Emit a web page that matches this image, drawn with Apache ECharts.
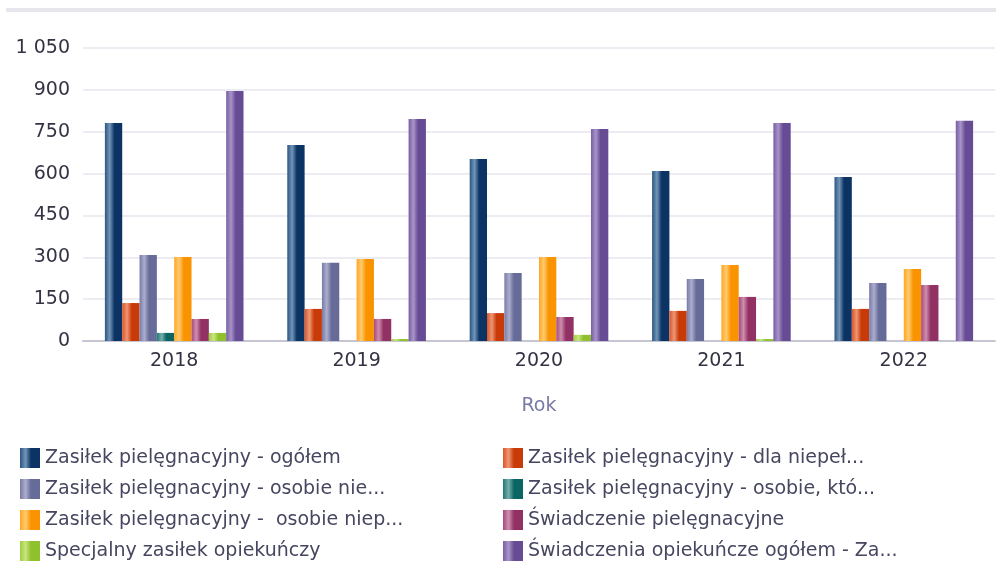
<!DOCTYPE html>
<html>
<head>
<meta charset="utf-8">
<script src="https://cdn.jsdelivr.net/npm/echarts@6/dist/echarts.min.js"></script>
<style>
  html, body { margin: 0; padding: 0; background: #fff; }
  #chart { width: 996px; height: 564px; }
</style>
</head>
<body>
<div id="chart"></div>
<script>
// data
var years = ['2018', '2019', '2020', '2021', '2022'];
var seriesNames = [
  'Zasiłek pielęgnacyjny - ogółem',
  'Zasiłek pielęgnacyjny - dla niepeł...',
  'Zasiłek pielęgnacyjny - osobie nie...',
  'Zasiłek pielęgnacyjny - osobie, któ...',
  'Zasiłek pielęgnacyjny -  osobie niep...',
  'Świadczenie pielęgnacyjne',
  'Specjalny zasiłek opiekuńczy',
  'Świadczenia opiekuńcze ogółem - Za...'
];
var zpOgolem = [781, 702, 652, 609, 588];
var zpDlaNiepel = [136, 115, 100, 108, 115];
var zpOsobieNie = [308, 280, 244, 222, 208];
var zpOsobieKto = [29, 0, 0, 0, 0];
var zpOsobieNiep = [301, 294, 301, 272, 258];
var swiadczeniePiel = [79, 79, 86, 158, 201];
var specjalnyZasilek = [29, 7, 22, 7, 0];
var swiadczeniaOgolem = [896, 796, 760, 781, 789];
var yTicks = { min: 0, max: 1050, interval: 150 };

var values = [zpOgolem, zpDlaNiepel, zpOsobieNie, zpOsobieKto, zpOsobieNiep,
  swiadczeniePiel, specjalnyZasilek, swiadczeniaOgolem];

// base / highlight / dark for the glossy cylinder look
var palette = [
  ['#2a5682', '#7395b8', '#0b3464'],
  ['#dc5626', '#ee9674', '#c83a08'],
  ['#777ba5', '#acaecd', '#676b98'],
  ['#1d7a77', '#78aeab', '#0b6663'],
  ['#ffa620', '#ffca70', '#f99400'],
  ['#a54a7d', '#ce8eae', '#923264'],
  ['#a0ce42', '#c6e57e', '#8fc12d'],
  ['#785da3', '#a894c8', '#674b95']
];

function barColor(p) {
  return new echarts.graphic.LinearGradient(0, 0, 1, 0, [
    { offset: 0, color: p[0] },
    { offset: 0.28, color: p[1] },
    { offset: 0.55, color: p[2] },
    { offset: 1, color: p[2] }
  ]);
}

var chart = echarts.init(document.getElementById('chart'));

var series = seriesNames.map(function (name, i) {
  return {
    name: name,
    type: 'bar',
    data: values[i],
    barGap: '0%',
    barCategoryGap: '24%',
    itemStyle: { color: barColor(palette[i]) }
  };
});

var legendText = { fontFamily: 'DejaVu Sans', fontSize: 19, color: '#464660' };

var option = {
  animation: false,
  textStyle: { fontFamily: 'DejaVu Sans' },
  graphic: [{
    type: 'rect',
    shape: { x: 6, y: 8, width: 990, height: 4 },
    style: { fill: '#e6e6ec' },
    silent: true
  }],
  grid: { left: 83, right: 1, top: 48, bottom: 223 },
  legend: [{
    orient: 'vertical',
    left: 20, top: 448, height: 116,
    padding: 0,
    itemWidth: 20, itemHeight: 20, itemGap: 11,
    icon: 'rect',
    textStyle: legendText,
    data: [seriesNames[0], seriesNames[2], seriesNames[4], seriesNames[6]]
  }, {
    orient: 'vertical',
    left: 503, top: 448, height: 116,
    padding: 0,
    itemWidth: 20, itemHeight: 20, itemGap: 11,
    icon: 'rect',
    textStyle: legendText,
    data: [seriesNames[1], seriesNames[3], seriesNames[5], seriesNames[7]]
  }],
  xAxis: {
    type: 'category',
    data: years,
    name: 'Rok',
    nameLocation: 'middle',
    nameGap: 56,
    nameTextStyle: { color: '#7a7aa6', fontSize: 19 },
    axisLine: { lineStyle: { color: '#c6c6d2', width: 2 } },
    axisTick: { show: false },
    axisLabel: { color: '#333344', fontSize: 19, margin: 11 }
  },
  yAxis: {
    type: 'value',
    min: yTicks.min,
    max: yTicks.max,
    interval: yTicks.interval,
    axisLine: { show: false },
    axisTick: { show: false },
    splitLine: { lineStyle: { color: '#ececf2', width: 2 } },
    axisLabel: {
      color: '#333344', fontSize: 19, margin: 13,
      formatter: function (v) {
        return String(v).replace(/\B(?=(\d{3})+(?!\d))/g, ' ');
      }
    }
  },
  series: series
};

chart.setOption(option);
</script>
</body>
</html>
